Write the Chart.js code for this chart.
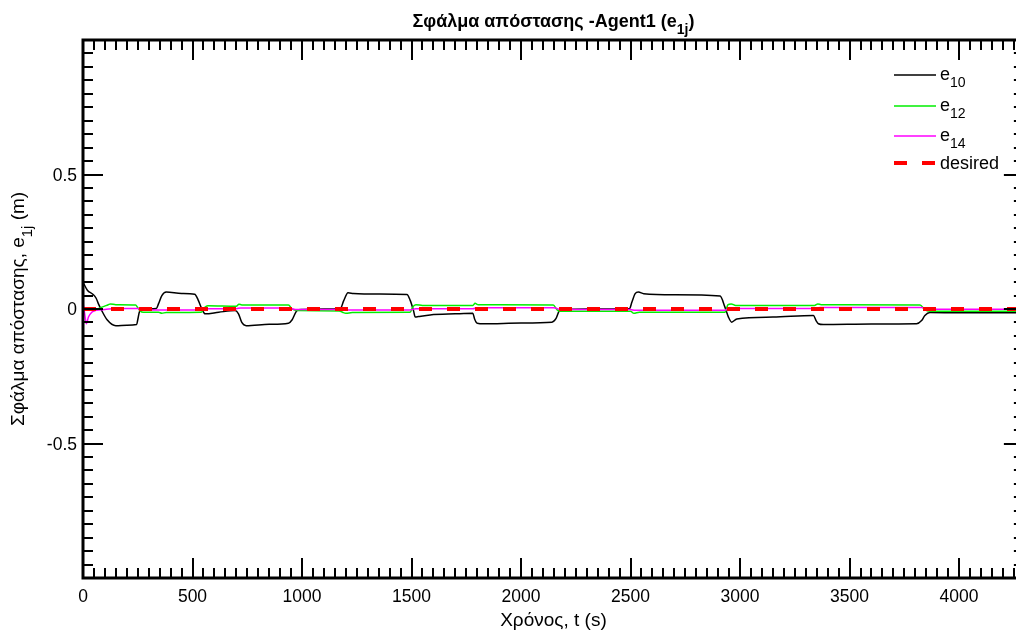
<!DOCTYPE html>
<html>
<head>
<meta charset="utf-8">
<script src="https://cdn.jsdelivr.net/npm/chart.js@4/dist/chart.umd.min.js"></script>
<style>
  body { margin: 0; background: #fff; }
  canvas { display: block; }
</style>
</head>
<body>
<canvas id="chart" width="1016" height="633"></canvas>
<script>
// time (s) and distance error (m)
const timesE10 = [0, 20, 45, 60, 70, 85, 110, 150, 200, 245, 250, 258, 270, 300, 335, 345, 360, 380, 450, 510, 525, 540, 558, 620, 695, 710, 725, 745, 850, 938, 955, 977, 1000, 1100, 1175, 1190, 1210, 1235, 1350, 1479, 1494, 1509, 1517, 1532, 1585, 1700, 1780, 1788, 1800, 1830, 2000, 2141, 2160, 2175, 2190, 2300, 2495, 2506, 2521, 2536, 2560, 2700, 2909, 2931, 2947, 2962, 2985, 3150, 3335, 3347, 3358, 3380, 3600, 3806, 3829, 3844, 3867, 4000, 4260];
const valuesE10 = [0.10, 0.07, 0.055, 0.04, 0.02, -0.005, -0.04, -0.062, -0.06, -0.058, -0.04, -0.01, -0.003, 0, 0.002, 0.02, 0.05, 0.063, 0.058, 0.055, 0.035, 0.005, -0.018, -0.012, -0.006, -0.018, -0.05, -0.062, -0.057, -0.053, -0.04, -0.006, -0.002, 0, 0.002, 0.03, 0.06, 0.058, 0.056, 0.054, 0.032, -0.006, -0.03, -0.028, -0.022, -0.018, -0.016, -0.037, -0.053, -0.055, -0.052, -0.049, -0.035, -0.006, -0.002, 0, 0.001, 0.025, 0.057, 0.063, 0.057, 0.053, 0.048, 0.007, -0.03, -0.049, -0.037, -0.03, -0.024, -0.043, -0.055, -0.058, -0.056, -0.055, -0.043, -0.024, -0.013, -0.014, -0.014];

const timesE12 = [0, 60, 90, 115, 125, 150, 240, 250, 262, 275, 345, 360, 380, 540, 555, 570, 700, 712, 725, 938, 955, 977, 1170, 1185, 1200, 1230, 1494, 1505, 1520, 1550, 1780, 1790, 1805, 2147, 2165, 2180, 2500, 2515, 2540, 2931, 2945, 2960, 2980, 3340, 3355, 3370, 3822, 3844, 3867, 4260];
const valuesE12 = [0, 0, 0.008, 0.016, 0.019, 0.016, 0.015, 0.005, -0.008, -0.012, -0.012, -0.016, -0.013, -0.012, 0.005, 0.012, 0.01, 0.018, 0.015, 0.015, 0, -0.006, -0.007, -0.012, -0.016, -0.013, -0.012, 0.007, 0.016, 0.013, 0.013, 0.021, 0.016, 0.015, -0.003, -0.008, -0.008, -0.016, -0.012, -0.012, 0.016, 0.019, 0.013, 0.013, 0.019, 0.016, 0.015, -0.003, -0.008, -0.008];

const timesE14 = [0, 8, 15, 25, 40, 60, 100, 150, 250, 270, 360, 540, 560, 700, 720, 940, 970, 1180, 1200, 1490, 1520, 1780, 1800, 2150, 2180, 2500, 2520, 2930, 2950, 3345, 3365, 3830, 3860, 4260];
const valuesE14 = [0.025, -0.02, -0.055, -0.03, -0.012, -0.005, -0.002, 0.002, 0.002, -0.002, -0.004, -0.004, 0.001, 0.001, 0.004, 0.004, -0.002, -0.002, -0.004, -0.004, 0.001, 0.001, 0.005, 0.005, -0.002, -0.002, -0.005, -0.005, 0.002, 0.002, 0.006, 0.006, -0.001, -0.001];

const timesDesired = [0, 4260];
const valuesDesired = [0, 0];

const xTickLabels = [0, 500, 1000, 1500, 2000, 2500, 3000, 3500, 4000];
const yTickLabels = [-0.5, 0, 0.5];

const FONT = '"Liberation Sans", Arial, Helvetica, sans-serif';

function toPoints(xs, ys) {
  return xs.map((x, i) => ({ x: x, y: ys[i] }));
}

// text with subscripts: parts = [[text, isSub], ...]
function drawRich(ctx, parts, x, y, size, bold, align) {
  const font = s => (bold ? 'bold ' : '') + s + 'px ' + FONT;
  let w = 0;
  parts.forEach(([t, sub]) => {
    ctx.font = font(sub ? size * 0.78 : size);
    w += ctx.measureText(t).width;
  });
  let cx = align === 'center' ? x - w / 2 : align === 'right' ? x - w : x;
  ctx.textAlign = 'left';
  ctx.textBaseline = 'alphabetic';
  parts.forEach(([t, sub]) => {
    ctx.font = font(sub ? size * 0.78 : size);
    ctx.fillText(t, cx, sub ? y + size * 0.4 : y);
    cx += ctx.measureText(t).width;
  });
}

const axesPlugin = {
  id: 'matlabAxes',
  afterDraw(chart) {
    const ctx = chart.ctx;
    const xs = chart.scales.x;
    const ys = chart.scales.y;
    const a = chart.chartArea;
    const rightAxis = xs.getPixelForValue(4296);
    ctx.save();
    ctx.strokeStyle = '#000';
    ctx.fillStyle = '#000';

    // box lines
    ctx.lineWidth = 3;
    ctx.beginPath();
    ctx.moveTo(a.left, a.top); ctx.lineTo(a.right, a.top);
    ctx.moveTo(a.left, a.top - 1.5); ctx.lineTo(a.left, a.bottom + 1.5);
    ctx.moveTo(a.left, a.bottom); ctx.lineTo(a.right, a.bottom);
    ctx.stroke();

    // inward ticks
    ctx.lineWidth = 2;
    ctx.beginPath();
    for (let t = 0; t <= 4300; t += 50) {
      const px = Math.round(xs.getPixelForValue(t));
      if (px > a.right) break;
      const len = t % 500 === 0 ? 20 : 10;
      ctx.moveTo(px, a.bottom); ctx.lineTo(px, a.bottom - len);
      ctx.moveTo(px, a.top); ctx.lineTo(px, a.top + len);
    }
    for (let k = -20; k <= 20; k++) {
      const py = Math.round(ys.getPixelForValue(k * 0.05));
      const len = k % 10 === 0 ? 20 : 10;
      ctx.moveTo(a.left, py); ctx.lineTo(a.left + len, py);
      ctx.moveTo(rightAxis, py); ctx.lineTo(rightAxis - len, py);
    }
    ctx.stroke();

    // tick labels
    ctx.font = '17.5px ' + FONT;
    ctx.textAlign = 'center';
    ctx.textBaseline = 'alphabetic';
    xTickLabels.forEach(v => ctx.fillText(String(v), xs.getPixelForValue(v), 602));
    ctx.textAlign = 'right';
    yTickLabels.forEach(v => ctx.fillText(String(v), 77, ys.getPixelForValue(v) + 6));

    // title and axis titles
    const mid = (a.left + rightAxis) / 2;
    drawRich(ctx, [['Σφάλμα απόστασης -Agent1 (e', false], ['1j', true], [')', false]], mid, 27, 18, true, 'center');
    drawRich(ctx, [['Χρόνος, t (s)', false]], mid, 626, 19, false, 'center');
    ctx.save();
    ctx.translate(24, (a.top + a.bottom) / 2);
    ctx.rotate(-Math.PI / 2);
    drawRich(ctx, [['Σφάλμα απόστασης, e', false], ['1j', true], [' (m)', false]], 0, 0, 19, false, 'center');
    ctx.restore();

    // legend
    const rows = [
      { ds: 3, y: 75, dy: 5, parts: [['e', false], ['10', true]] },
      { ds: 2, y: 106, dy: 5, parts: [['e', false], ['12', true]] },
      { ds: 1, y: 136, dy: 5, parts: [['e', false], ['14', true]] },
      { ds: 0, y: 163, dy: 6, parts: [['desired', false]] }
    ];
    rows.forEach(r => {
      const d = chart.data.datasets[r.ds];
      ctx.strokeStyle = d.borderColor;
      ctx.lineWidth = d.borderWidth;
      ctx.setLineDash(d.borderDash || []);
      ctx.beginPath();
      ctx.moveTo(894, r.y); ctx.lineTo(936, r.y);
      ctx.stroke();
      ctx.setLineDash([]);
      ctx.fillStyle = '#000';
      drawRich(ctx, r.parts, 940, r.y + r.dy, 18, false, 'left');
    });
    ctx.restore();
  }
};

new Chart(document.getElementById('chart'), {
  type: 'line',
  data: {
    datasets: [
      { label: 'desired', data: toPoints(timesDesired, valuesDesired), borderColor: '#ff0000', borderWidth: 4, borderDash: [13, 15], pointRadius: 0, order: 0 },
      { label: 'e14', data: toPoints(timesE14, valuesE14), borderColor: '#ff00ff', borderWidth: 1.5, pointRadius: 0, order: 1 },
      { label: 'e12', data: toPoints(timesE12, valuesE12), borderColor: '#00ee00', borderWidth: 1.5, pointRadius: 0, order: 2 },
      { label: 'e10', data: toPoints(timesE10, valuesE10), borderColor: '#000000', borderWidth: 1.5, pointRadius: 0, order: 3 }
    ]
  },
  options: {
    responsive: false,
    animation: false,
    devicePixelRatio: 1,
    layout: { padding: { left: 83, top: 40, right: 0, bottom: 55 } },
    elements: { line: { cubicInterpolationMode: 'monotone' } },
    scales: {
      x: { type: 'linear', min: 0, max: 4260, display: false },
      y: { type: 'linear', min: -1, max: 1, display: false }
    },
    plugins: { legend: { display: false }, tooltip: { enabled: false } }
  },
  plugins: [axesPlugin]
});
</script>
</body>
</html>
